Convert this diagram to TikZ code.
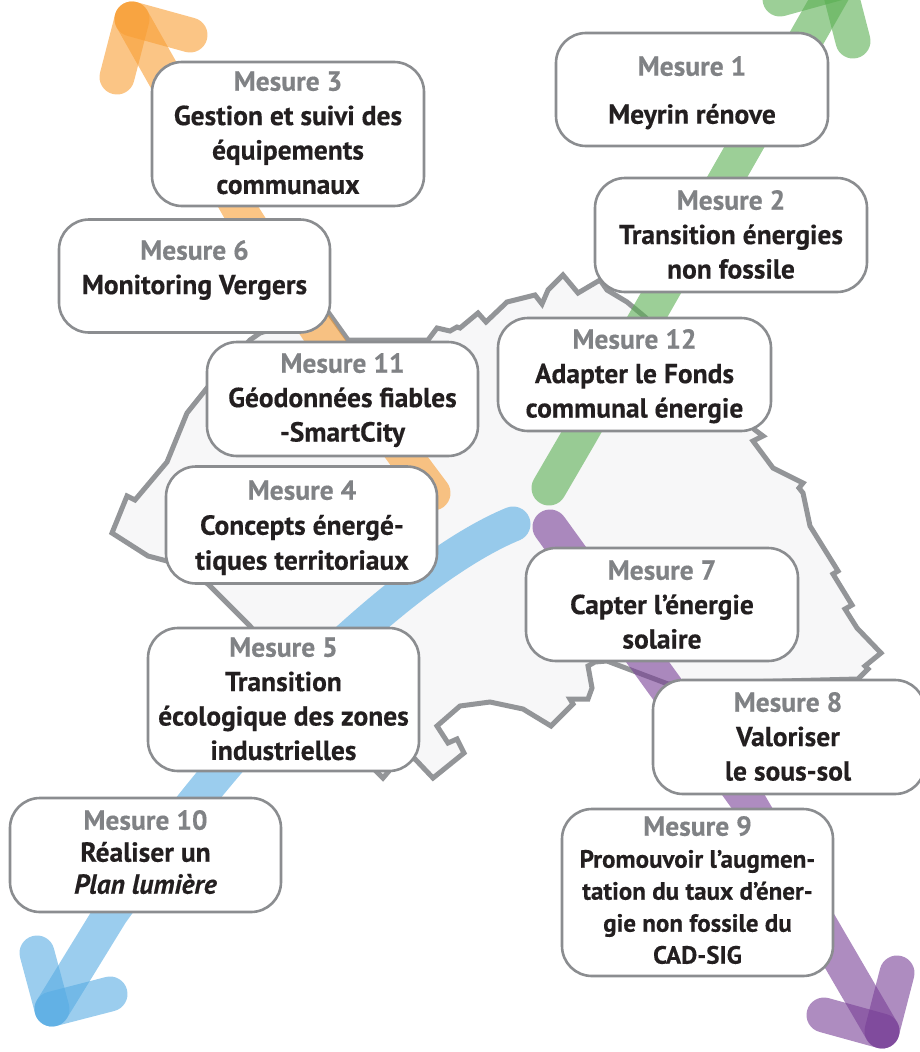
\documentclass[tikz,border=0pt]{standalone}
\usepackage{fontspec}
\setmainfont{PT Sans}[BoldFeatures={FakeBold=0.35},BoldItalicFeatures={FakeBold=0.35}]
\definecolor{gtitle}{HTML}{808285}
\definecolor{gline}{HTML}{8B8D90}
\definecolor{gmap}{HTML}{939598}
\definecolor{fmap}{HTML}{F7F7F8}
\definecolor{ink}{HTML}{231F20}
\definecolor{corange}{RGB}{248,158,52}
\definecolor{cgreen}{RGB}{90,175,82}
\definecolor{cblue}{RGB}{88,172,227}
\definecolor{cpurple}{RGB}{120,63,150}
\newcommand{\tit}[1]{\rule{0pt}{31.7pt}{\color{gtitle}#1}}
\tikzset{
  mbox/.style={draw=gline,line width=2.6pt,fill=white,rounded corners=30pt,inner sep=0pt,outer sep=0pt},
  mtext/.style={anchor=north,align=center,inner sep=0pt,outer sep=0pt,text=ink,font=\fontsize{27.5}{34.4}\selectfont\bfseries},
  shaft/.style={line width=35pt,line cap=round,line join=round,opacity=.6},
}
\begin{document}
\begin{tikzpicture}[x=1pt,y=-1pt]
\useasboundingbox (0,0) rectangle (920,1052);
\clip (0,0) rectangle (920,1052);
% map
\draw[draw=gmap,fill=fmap,line width=5pt,line join=miter] (328,312) -- (348,340) -- (428,340) -- (437,328) -- (450,331) -- (457,327) -- (460,328) -- (478,313) -- (486,322) -- (507,302) -- (535,295) -- (542,304) -- (548,290) -- (563,275) -- (578,293) -- (600,280) -- (607,290) -- (627,302) -- (645,317) -- (755,430) -- (763,436) -- (753,441) -- (773,468) -- (803,483) -- (799,488) -- (803,493) -- (810,526) -- (838,571) -- (833,574) -- (852,605) -- (845,609) -- (857,628) -- (881,653) -- (865,666) -- (868,669) -- (858,679) -- (668,684) -- (607,661) -- (595,662) -- (588,666) -- (592,688) -- (588,699) -- (570,699) -- (573,704) -- (551,726) -- (523,709) -- (490,702) -- (460,706) -- (437,726) -- (448,743) -- (457,739) -- (464,753) -- (433,778) -- (415,759) -- (400,758) -- (383,778) -- (360,755) -- (250,626) -- (208,584) -- (167,561) -- (148,556) -- (112,533) -- (127,496) -- (135,500) -- (167,462) -- (187,413) -- (207,388) -- (250,340) -- (260,333) -- cycle;
% arrows
\coordinate (otip) at (132,19); \coordinate (oend) at (433,493);
\coordinate (gtip) at (838,-17); \coordinate (gend) at (549,488);
\coordinate (btip) at (52,1009); \coordinate (bend) at (513,524);
\coordinate (ptip) at (882,1031); \coordinate (pend) at (550,527);
\draw[shaft,corange] (oend) .. controls (370,410) and (300,305) .. (241,212) -- (otip);
\draw[shaft,corange] (otip) -- (117,77);
\draw[shaft,corange] (otip) -- (190,35);
\draw[shaft,cgreen] (gend) -- (581,433) -- (gtip);
\draw[shaft,cgreen] (gtip) -- (853,41);
\draw[shaft,cgreen] (gtip) -- (780,-1);
\draw[shaft,cblue] (bend) .. controls (450,550) and (370,615) .. (290,695) .. controls (250,735) and (200,790) .. (111,913) -- (btip);
\draw[shaft,cblue] (btip) -- (37,953);
\draw[shaft,cblue] (btip) -- (110,994);
\draw[shaft,cpurple] (pend) -- (748,801) -- (ptip);
\draw[shaft,cpurple] (ptip) -- (897,973);
\draw[shaft,cpurple] (ptip) -- (824,1015);
% boxes
\node[mbox,minimum width=272pt,minimum height=144pt] (m3) at (288,134) {};
\node[mbox,minimum width=271pt,minimum height=113pt] (m6) at (194.5,276) {};
\node[mbox,minimum width=271pt,minimum height=114pt] (m11) at (342.5,399) {};
\node[mbox,minimum width=271pt,minimum height=117pt] (m4) at (301.5,525) {};
\node[mbox,minimum width=271pt,minimum height=143pt] (m5) at (283.5,699.5) {};
\node[mbox,minimum width=271pt,minimum height=114pt] (m10) at (145.5,855) {};
\node[mbox,minimum width=272pt,minimum height=113pt] (m1) at (692,89.5) {};
\node[mbox,minimum width=272pt,minimum height=114pt] (m2) at (731,235) {};
\node[mbox,minimum width=273pt,minimum height=113pt] (m12) at (634.5,374.5) {};
\node[mbox,minimum width=272pt,minimum height=113pt] (m7) at (662,604.5) {};
\node[mbox,minimum width=272pt,minimum height=114pt] (m8) at (789,737) {};
\node[mbox,minimum width=271pt,minimum height=167pt] (m9) at (697.5,892.5) {};
% texts
\node[mtext] (t3) at (288,59) {\tit{Mesure 3}\\Gestion et suivi des\\équipements\\communaux};
\node[mtext] (t6) at (194.5,228) {\tit{Mesure 6}\\Monitoring Vergers};
\node[mtext] (t11) at (342.5,341) {\tit{Mesure 11}\\Géodonnées fiables\\-SmartCity};
\node[mtext,font=\fontsize{27.5}{35}\selectfont\bfseries] (t4) at (302,468) {\tit{Mesure 4}\\Concepts énergé-\\tiques territoriaux};
\node[mtext] (t5) at (283.5,625) {\tit{Mesure 5}\\Transition\\écologique des zones\\industrielles};
\node[mtext,font=\fontsize{27.5}{32}\selectfont\bfseries] (t10) at (145.5,798) {\tit{Mesure 10}\\Réaliser un\\\textit{Plan lumière}};
\node[mtext,font=\fontsize{27.5}{48}\selectfont\bfseries] (t1) at (692,44) {\tit{Mesure 1}\\Meyrin rénove};
\node[mtext] (t2) at (731,178) {\tit{Mesure 2}\\Transition énergies\\non fossile};
\node[mtext] (t12) at (634.5,317) {\tit{Mesure 12}\\Adapter le Fonds\\communal énergie};
\node[mtext] (t7) at (662,548) {\tit{Mesure 7}\\Capter l’énergie\\solaire};
\node[mtext] (t8) at (788,680) {\tit{Mesure 8}\\Valoriser\\le sous-sol};
\node[mtext,font=\fontsize{25}{32}\selectfont\bfseries] (t9) at (697.5,804) {\tit{\fontsize{27.5}{32}\selectfont Mesure 9}\\Promouvoir l’augmen-\\tation du taux d’éner-\\gie non fossile du\\CAD-SIG};
\end{tikzpicture}
\end{document}
